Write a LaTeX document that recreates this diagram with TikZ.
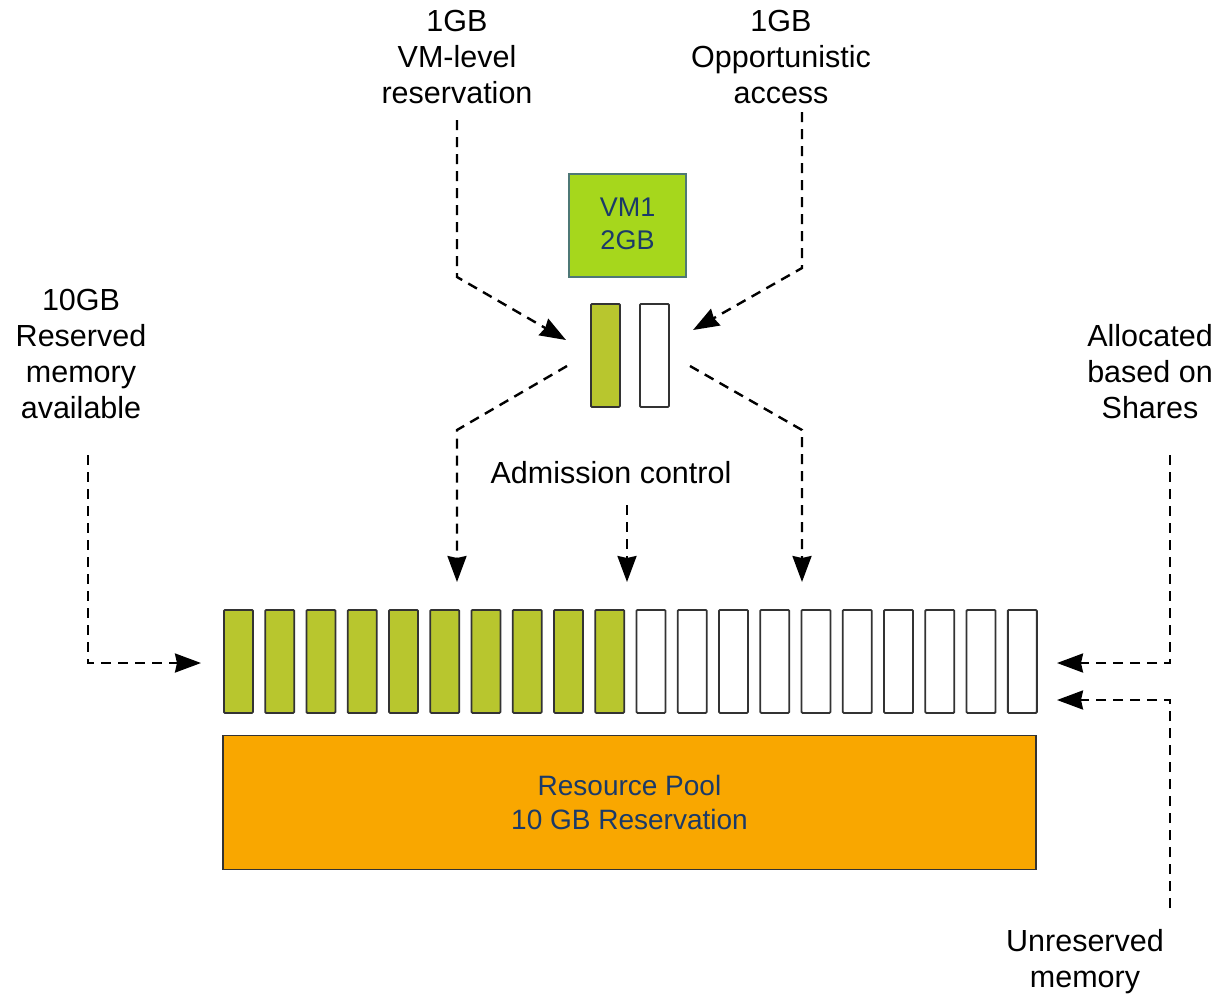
\documentclass[tikz,border=0pt]{standalone}
\usepackage{fontspec}
\setmainfont{Liberation Sans}
\usetikzlibrary{arrows.meta,calc}
\definecolor{barGreen}{HTML}{B8C62E}
\definecolor{vmGreen}{HTML}{A6D71C}
\definecolor{vmEdge}{HTML}{4E7876}
\definecolor{poolOrange}{HTML}{F9A700}
\definecolor{inkBlue}{HTML}{1B3A68}
\definecolor{barEdge}{HTML}{333333}
\begin{document}
\begin{tikzpicture}[x=1pt,y=-1pt,
  lbl/.style={align=center, font=\fontsize{30.5}{36}\selectfont, inner sep=0pt},
  inlbl/.style={align=center, text=inkBlue, font=\fontsize{28}{34}\selectfont},
  memcell/.style={draw=barEdge, line width=1.8pt, rounded corners=1pt,
    minimum width=29pt, minimum height=103pt, inner sep=0pt, anchor=north west},
  usedcell/.style={memcell, fill=barGreen},
  freecell/.style={memcell, fill=white},
  flow/.style={draw=black, line width=2.4pt, dash pattern=on 10pt off 7pt,
    -{Stealth[length=26pt,width=19pt,inset=2pt]}}
]
\useasboundingbox (0,0) rectangle (1228,997);

% memory cells of the resource pool
\foreach \i in {0,...,19}{
  \pgfmathsetmacro{\cx}{223+\i*41.26}
  \ifnum\i<10
    \node[usedcell] (b\i) at (\cx,609) {};
  \else
    \node[freecell] (b\i) at (\cx,609) {};
  \fi
}

% resource pool
\node[draw=barEdge, line width=1.8pt, fill=poolOrange, minimum width=813pt,
  minimum height=134pt, inner sep=0pt] (pool) at (629.5,802.5) {};
\node[inlbl] (pooltxt) at (629.5,802) {Resource Pool\\10 GB Reservation};

% virtual machine and its two memory cells
\node[draw=vmEdge, line width=1.6pt, fill=vmGreen, minimum width=117pt,
  minimum height=103pt, inner sep=0pt] (vm) at (627.5,225.5) {};
\node[inlbl, font=\fontsize{27}{33}\selectfont] (vmtxt) at (627.5,224) {VM1\\2GB};
\node[usedcell] (vres) at (590,303) {};
\node[freecell] (vopp) at (639,303) {};

% labels
\node[lbl] (lres) at (457,57) {1GB\\VM-level\\reservation};
\node[lbl] (lopp) at (781,57) {1GB\\Opportunistic\\access};
\node[lbl] (lavail) at (81,354) {10GB\\Reserved\\memory\\available};
\node[lbl] (lshares) at (1150,372) {Allocated\\based on\\Shares};
\node[lbl] (ladm) at (611,473) {Admission control};
\node[lbl] (lunres) at (1085,962) {Unreserved\\memory};

% bend and end points of the connectors
\coordinate (resTop) at (457,120);
\coordinate (resBend) at (457,277);
\coordinate (resTip) at (566,340);
\coordinate (oppTop) at (802,112);
\coordinate (oppBend) at (802,268);
\coordinate (oppTip) at (693,330);
\coordinate (leftStart) at (567,366);
\coordinate (leftBend) at (457,430);
\coordinate (leftTip) at (457,582);
\coordinate (rightStart) at (690,366);
\coordinate (rightBend) at (802,430);
\coordinate (rightTip) at (802,582);
\coordinate (admTop) at (627,505);
\coordinate (admTip) at (627,582);
\coordinate (avTop) at (88,455);
\coordinate (avBend) at (88,663);
\coordinate (avTip) at (201,663);
\coordinate (shTop) at (1170,455);
\coordinate (shBend) at (1170,663);
\coordinate (shTip) at (1057,663);
\coordinate (unBot) at (1170,908);
\coordinate (unBend) at (1170,700);
\coordinate (unTip) at (1057,700);

% connectors
\draw[flow] (resTop) -- (resBend) -- (resTip);
\draw[flow] (oppTop) -- (oppBend) -- (oppTip);
\draw[flow] (leftStart) -- (leftBend) -- (leftTip);
\draw[flow] (rightStart) -- (rightBend) -- (rightTip);
\draw[flow] (admTop) -- (admTip);
\draw[flow] (avTop) -- (avBend) -- (avTip);
\draw[flow] (shTop) -- (shBend) -- (shTip);
\draw[flow] (unBot) -- (unBend) -- (unTip);
\end{tikzpicture}
\end{document}
